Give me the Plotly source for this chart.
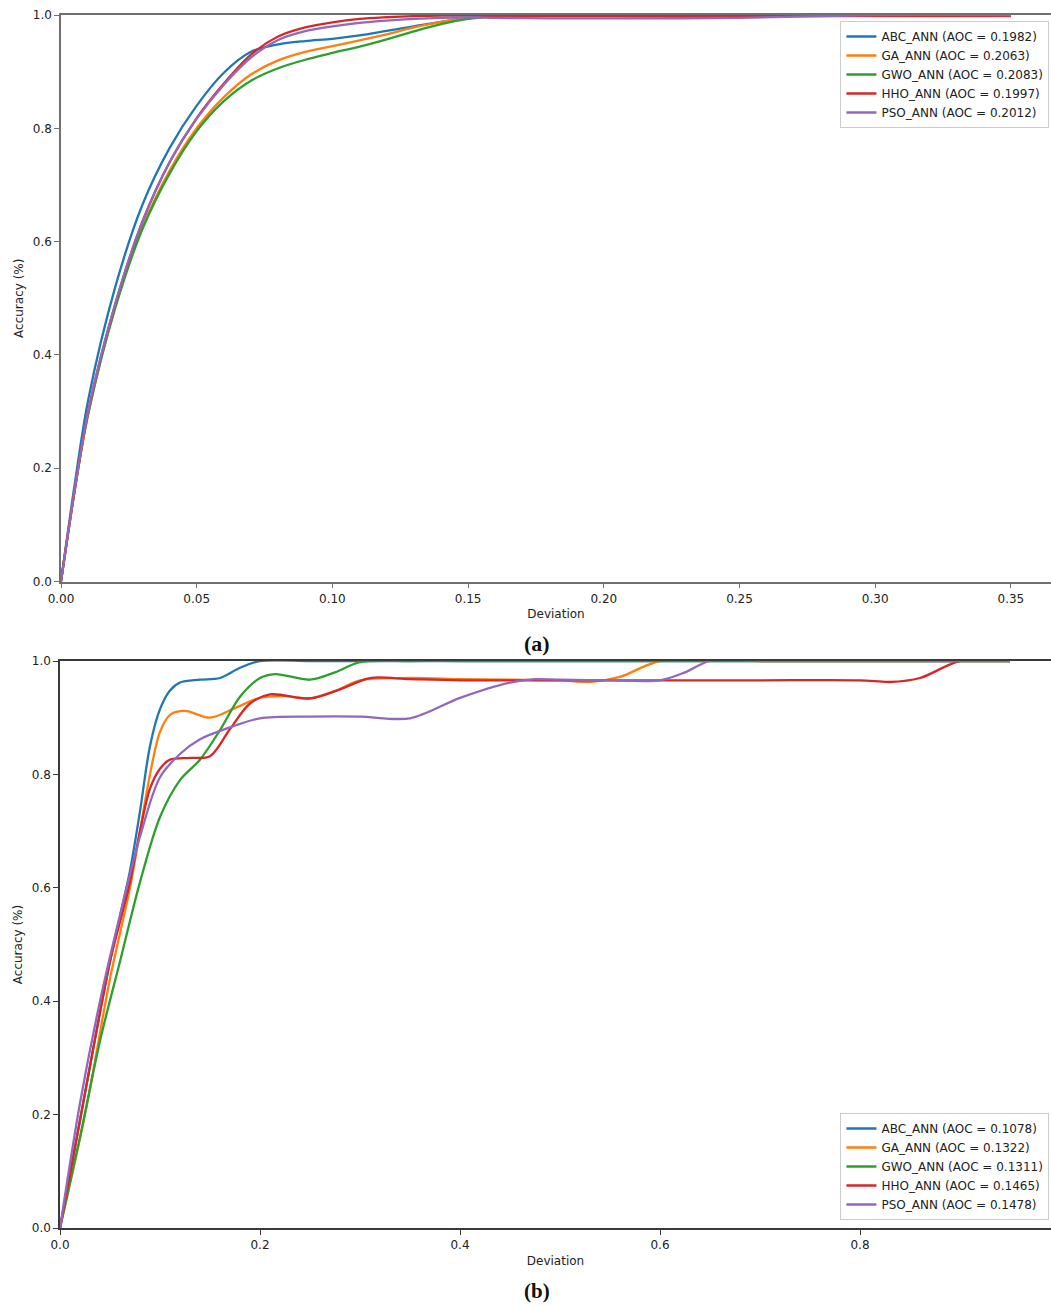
import plotly.graph_objects as go

W, H = 1051, 1306
colors = ["#1f77b4", "#ff7f0e", "#2ca02c", "#d62728", "#9467bd"]
names = ["ABC_ANN", "GA_ANN", "GWO_ANN", "HHO_ANN", "PSO_ANN"]

# ---------- panel (a) data ----------
a_aoc = ["0.1982", "0.2063", "0.2083", "0.1997", "0.2012"]
a_x = [0, 0.005, 0.01, 0.02, 0.03, 0.04, 0.05, 0.06, 0.07, 0.08, 0.09,
       0.10, 0.11, 0.12, 0.13, 0.14, 0.15, 0.16, 0.18, 0.20, 0.25, 0.30, 0.35]
a_y_abc = [0, 0.17, 0.32, 0.52, 0.665, 0.765, 0.84, 0.898, 0.935, 0.948, 0.954,
           0.958, 0.964, 0.972, 0.98, 0.988, 0.994, 0.998, 1.0, 1.0, 1.0, 1.0, 1.0]
a_y_ga = [0, 0.16, 0.295, 0.485, 0.625, 0.725, 0.80, 0.855, 0.895, 0.92, 0.935,
          0.945, 0.955, 0.966, 0.978, 0.988, 0.996, 1.0, 1.0, 1.0, 1.0, 1.0, 1.0]
a_y_gwo = [0, 0.16, 0.295, 0.483, 0.622, 0.72, 0.795, 0.848, 0.884, 0.906, 0.921,
           0.933, 0.944, 0.957, 0.971, 0.984, 0.993, 0.998, 1.0, 1.0, 1.0, 1.0, 1.0]
a_y_hho = [0, 0.16, 0.30, 0.49, 0.635, 0.74, 0.818, 0.879, 0.93, 0.962, 0.978,
           0.987, 0.993, 0.996, 0.998, 0.999, 0.999, 0.998, 0.998, 0.998, 0.998, 0.998, 0.998]
a_y_pso = [0, 0.16, 0.30, 0.49, 0.635, 0.74, 0.817, 0.877, 0.925, 0.956, 0.9715,
           0.98, 0.986, 0.990, 0.993, 0.995, 0.996, 0.995, 0.994, 0.994, 0.995, 1.0, 1.0]

# ---------- panel (b) data ----------
b_aoc = ["0.1078", "0.1322", "0.1311", "0.1465", "0.1478"]
b_x_abc = [0, 0.02, 0.04, 0.05, 0.06, 0.07, 0.08, 0.09, 0.10, 0.11, 0.12, 0.14, 0.16, 0.18, 0.20,
           0.25, 0.30, 0.40, 0.50, 0.60, 0.70, 0.80, 0.95]
b_y_abc = [0, 0.19, 0.38, 0.47, 0.55, 0.63, 0.735, 0.85, 0.915, 0.948, 0.962, 0.967, 0.97, 0.988, 1.0,
           1.0, 1.0, 1.0, 1.0, 1.0, 1.0, 1.0, 1.0]
b_x_ga = [0, 0.025, 0.05, 0.06, 0.07, 0.08, 0.09, 0.10, 0.11, 0.125, 0.15, 0.175, 0.20, 0.225, 0.25,
          0.275, 0.30, 0.35, 0.40, 0.45, 0.50, 0.53, 0.56, 0.60, 0.70, 0.80, 0.95]
b_y_ga = [0, 0.20, 0.44, 0.52, 0.60, 0.70, 0.80, 0.875, 0.905, 0.912, 0.90, 0.917, 0.935, 0.938, 0.934,
          0.947, 0.966, 0.97, 0.968, 0.967, 0.966, 0.963, 0.972, 1.0, 1.0, 1.0, 1.0]
b_x_gwo = [0, 0.02, 0.04, 0.06, 0.08, 0.10, 0.12, 0.14, 0.16, 0.18, 0.20, 0.215, 0.25, 0.275, 0.30, 0.35,
           0.40, 0.50, 0.60, 0.70, 0.80, 0.95]
b_y_gwo = [0, 0.16, 0.33, 0.47, 0.61, 0.725, 0.79, 0.826, 0.878, 0.937, 0.97, 0.977, 0.967, 0.98, 0.998,
           1.0, 1.0, 1.0, 1.0, 1.0, 1.0, 1.0]
b_x_hho = [0, 0.02, 0.05, 0.06, 0.07, 0.08, 0.09, 0.10, 0.11, 0.13, 0.15, 0.17, 0.19, 0.21, 0.25, 0.28,
           0.31, 0.35, 0.40, 0.50, 0.60, 0.70, 0.80, 0.83, 0.86, 0.90, 0.95]
b_y_hho = [0, 0.19, 0.47, 0.54, 0.61, 0.70, 0.775, 0.81, 0.826, 0.829, 0.832, 0.88, 0.925, 0.941, 0.934,
           0.95, 0.97, 0.968, 0.966, 0.966, 0.966, 0.966, 0.966, 0.963, 0.97, 1.0, 1.0]
b_x_pso = [0, 0.02, 0.04, 0.06, 0.08, 0.10, 0.12, 0.14, 0.17, 0.20, 0.25, 0.30, 0.35, 0.40, 0.45, 0.475,
           0.50, 0.55, 0.60, 0.625, 0.65, 0.70, 0.80, 0.95]
b_y_pso = [0, 0.22, 0.40, 0.552, 0.69, 0.795, 0.836, 0.862, 0.883, 0.899, 0.902, 0.902, 0.899, 0.935,
           0.962, 0.968, 0.967, 0.966, 0.966, 0.98, 1.0, 1.0, 1.0, 1.0]

a_ys = [a_y_abc, a_y_ga, a_y_gwo, a_y_hho, a_y_pso]
b_xs = [b_x_abc, b_x_ga, b_x_gwo, b_x_hho, b_x_pso]
b_ys = [b_y_abc, b_y_ga, b_y_gwo, b_y_hho, b_y_pso]

a_xticks = [0, 0.05, 0.10, 0.15, 0.20, 0.25, 0.30, 0.35]
b_xticks = [0, 0.2, 0.4, 0.6, 0.8]
yticks = [0, 0.2, 0.4, 0.6, 0.8, 1.0]

fig = go.Figure()
for i in range(5):
    fig.add_trace(go.Scatter(x=a_x, y=a_ys[i], mode="lines",
                             name=f"{names[i]} (AOC = {a_aoc[i]})",
                             line=dict(color=colors[i], width=2.3, shape="spline", smoothing=0.9),
                             xaxis="x", yaxis="y", legend="legend"))
for i in range(5):
    fig.add_trace(go.Scatter(x=b_xs[i], y=b_ys[i], mode="lines",
                             name=f"{names[i]} (AOC = {b_aoc[i]})",
                             line=dict(color=colors[i], width=2.3, shape="spline", smoothing=0.9),
                             xaxis="x2", yaxis="y2", legend="legend2"))

def py(p):
    return 1 - p / H

font = dict(family="DejaVu Sans", size=12, color="#222")
axcol_a = "#707070"
axcol_b = "#3a3a3a"

common_x = dict(showgrid=False, zeroline=False, showline=True, mirror=True, ticks="outside",
                ticklen=5, tickwidth=1.2, tickfont=font, linewidth=1.5, automargin=False)
common_y = dict(showgrid=False, zeroline=False, showline=True, mirror=False, ticks="outside",
                ticklen=5, tickwidth=1.2, tickfont=font, linewidth=1.5, automargin=False,
                range=[0, 1], tickvals=yticks, tickformat=".1f")

fig.update_layout(
    width=W, height=H, margin=dict(l=0, r=0, t=0, b=0, autoexpand=False),
    plot_bgcolor="white", paper_bgcolor="white",
    font=font,
    xaxis=dict(**common_x, domain=[61 / W, 1], range=[0, (W - 61) / 2714], tickvals=a_xticks,
               tickformat=".2f", linecolor=axcol_a, tickcolor=axcol_a, anchor="y",
               title=dict(text="Deviation", font=font, standoff=5)),
    yaxis=dict(**common_y, domain=[py(581.5), py(15)], linecolor=axcol_a, tickcolor=axcol_a, anchor="x",
               title=dict(text="Accuracy (%)", font=font, standoff=7)),
    xaxis2=dict(**common_x, domain=[60 / W, 1], range=[0, (W - 60) / 1000], tickvals=b_xticks,
                tickformat=".1f", linecolor=axcol_b, tickcolor=axcol_b, anchor="y2",
                title=dict(text="Deviation", font=font, standoff=5)),
    yaxis2=dict(**common_y, domain=[py(1228), py(661)], linecolor=axcol_b, tickcolor=axcol_b, anchor="x2",
                title=dict(text="Accuracy (%)", font=font, standoff=7)),
    legend=dict(x=0.9985, y=py(21), xanchor="right", yanchor="top", bgcolor="rgba(255,255,255,0.85)",
                bordercolor="#cccccc", borderwidth=1, font=font, tracegroupgap=0),
    legend2=dict(x=0.9985, y=py(1220), xanchor="right", yanchor="bottom", bgcolor="rgba(255,255,255,0.85)",
                 bordercolor="#cccccc", borderwidth=1, font=font, tracegroupgap=0),
    annotations=[
        dict(text="<b>(a)</b>", x=537 / W, y=py(643), xref="paper", yref="paper", showarrow=False,
             font=dict(family="Liberation Serif", size=22, color="#111"), xanchor="center", yanchor="middle"),
        dict(text="<b>(b)</b>", x=537 / W, y=py(1291), xref="paper", yref="paper", showarrow=False,
             font=dict(family="Liberation Serif", size=21, color="#111"), xanchor="center", yanchor="middle"),
    ],
    showlegend=True,
)

fig.write_html("out.html")
